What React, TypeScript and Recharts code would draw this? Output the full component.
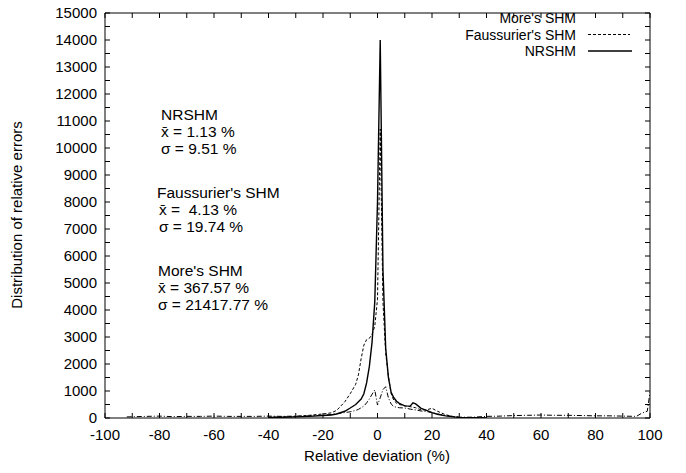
import React from 'react';
import { LineChart, Line, XAxis, YAxis } from 'recharts';

const deviations = [-100, -92, -85, -80, -75, -70, -65, -60, -55, -50, -45, -40, -35, -30, -25, -20, -17, -15, -12, -10, -8, -7, -6, -5, -4, -3, -2, -1, 0, 1, 2, 3, 4, 5, 6, 7, 8, 10, 12, 13, 14, 16, 18, 20, 22, 25, 28, 30, 35, 40, 45, 50, 55, 60, 65, 70, 75, 80, 85, 90, 95, 97, 99, 100];

const nrshm = [null, null, null, null, null, null, null, null, null, null, null, 20, 30, 40, 60, 90, 110, 150, 250, 370, 500, 600, 700, 900, 1300, 1900, 2800, 4300, 8000, 14000, 5500, 2600, 1500, 950, 750, 620, 540, 450, 440, 560, 520, 360, 280, 200, 140, 80, 40, 25, 10, 5, null, null, null, null, null, null, null, null, null, null, null, null, null, null];

const faussurier = [null, null, null, null, null, null, null, null, null, null, null, 30, 40, 60, 100, 150, 190, 280, 600, 900, 1250, 1600, 2200, 2700, 2900, 2950, 3100, 3400, 4400, 10700, 4300, 2400, 1550, 900, 650, 550, 500, 450, 420, 400, 380, 300, 300, 360, 250, 120, 50, 20, 10, 5, null, null, null, null, null, null, null, null, null, null, null, null, null, null];

const more = [null, 40, 60, 70, 50, 60, 60, 70, 60, 60, 60, 70, 60, 70, 80, 100, 130, 160, 200, 230, 280, 320, 380, 440, 560, 700, 880, 1040, 480, 750, 1050, 1160, 750, 520, 420, 400, 380, 370, 330, 310, 300, 260, 240, 200, 150, 90, 50, 30, 30, 60, 70, 90, 100, 110, 100, 100, 90, 80, 80, 70, 60, 180, 250, 950];

const xTicks = [-100, -90, -80, -70, -60, -50, -40, -30, -20, -10, 0, 10, 20, 30, 40, 50, 60, 70, 80, 90, 100];
const yTicks = Array.from({ length: 31 }, (_, i) => i * 500);

const seriesNames = ["More's SHM", "Faussurier's SHM", 'NRSHM'];
const xLabel = 'Relative deviation (%)';
const yLabel = 'Distribution of relative errors';
const stats = [
  { name: 'NRSHM', mean: 'x\u0304 = 1.13 %', sigma: '\u03c3 = 9.51 %' },
  { name: "Faussurier's SHM", mean: 'x\u0304 =  4.13 %', sigma: '\u03c3 = 19.74 %' },
  { name: "More's SHM", mean: 'x\u0304 = 367.57 %', sigma: '\u03c3 = 21417.77 %' },
];

const data = deviations.map((x, i) => ({ x, nrshm: nrshm[i], faussurier: faussurier[i], more: more[i] }));

const FONT = '"Liberation Sans", Arial, Helvetica, sans-serif';
const TL = 5;

const BottomTick = (props: any) => {
  const { x, y, payload } = props;
  const v = payload.value;
  return (
    <g>
      <line x1={x} y1={y} x2={x} y2={y - TL} stroke="#000" strokeWidth={1} />
      {v % 20 === 0 ? (
        <text x={x} y={y + 22} textAnchor="middle" fontSize={15} fontFamily={FONT} fill="#000">{v}</text>
      ) : null}
    </g>
  );
};
const TopTick = (props: any) => {
  const { x, y } = props;
  return <line x1={x} y1={y} x2={x} y2={y + TL} stroke="#000" strokeWidth={1} />;
};
const LeftTick = (props: any) => {
  const { x, y, payload } = props;
  const v = payload.value;
  return (
    <g>
      <line x1={x} y1={y} x2={x + TL} y2={y} stroke="#000" strokeWidth={1} />
      {v % 1000 === 0 ? (
        <text x={x - 8} y={y + 5} textAnchor="end" fontSize={15} fontFamily={FONT} fill="#000">{v}</text>
      ) : null}
    </g>
  );
};
const RightTick = (props: any) => {
  const { x, y } = props;
  return <line x1={x} y1={y} x2={x - TL} y2={y} stroke="#000" strokeWidth={1} />;
};

export default function App() {
  return (
    <div style={{ position: 'absolute', left: 0, top: 0, width: 686, height: 473, background: '#fff' }}>
      <LineChart width={686} height={473} data={data} margin={{ top: 8, right: 26, bottom: 25, left: 45 }}>
        <XAxis xAxisId="bottom" dataKey="x" type="number" domain={[-100, 100]} ticks={xTicks} interval={0}
          tickSize={0} tickMargin={0} tickLine={false} tick={<BottomTick />} axisLine={{ stroke: '#000' }} height={30} allowDataOverflow />
        <XAxis xAxisId="top" orientation="top" dataKey="x" type="number" domain={[-100, 100]} ticks={xTicks} interval={0}
          tickSize={0} tickMargin={0} tickLine={false} tick={<TopTick />} axisLine={{ stroke: '#000' }} height={5} allowDataOverflow />
        <YAxis yAxisId="left" type="number" domain={[0, 15000]} ticks={yTicks} interval={0}
          tickSize={0} tickMargin={0} tickLine={false} tick={<LeftTick />} axisLine={{ stroke: '#000' }} width={60} allowDataOverflow />
        <YAxis yAxisId="right" orientation="right" type="number" domain={[0, 15000]} ticks={yTicks} interval={0}
          tickSize={0} tickMargin={0} tickLine={false} tick={<RightTick />} axisLine={{ stroke: '#000' }} width={10} allowDataOverflow />
        <Line xAxisId="bottom" yAxisId="left" type="linear" dataKey="more" name={seriesNames[0]} stroke="#000" strokeWidth={1}
          strokeDasharray="5 2 1 2" dot={false} isAnimationActive={false} />
        <Line xAxisId="bottom" yAxisId="left" type="linear" dataKey="faussurier" name={seriesNames[1]} stroke="#000" strokeWidth={1}
          strokeDasharray="3 2" dot={false} isAnimationActive={false} />
        <Line xAxisId="bottom" yAxisId="left" type="linear" dataKey="nrshm" name={seriesNames[2]} stroke="#000" strokeWidth={1.4}
          dot={false} isAnimationActive={false} />
      </LineChart>
      <svg width={686} height={473} style={{ position: 'absolute', left: 0, top: 0, pointerEvents: 'none' }}
        fontFamily={FONT} fontSize={15.5} fill="#000">
        <g fontSize={14}>
          <text x={576} y={23} textAnchor="end">{seriesNames[0]}</text>
          <text x={576} y={39.5} textAnchor="end">{seriesNames[1]}</text>
          <line x1={588} y1={34.5} x2={630} y2={34.5} stroke="#000" strokeWidth={1} strokeDasharray="3 2" />
          <text x={576} y={56} textAnchor="end">{seriesNames[2]}</text>
          <line x1={588} y1={51} x2={632} y2={51} stroke="#000" strokeWidth={1.4} />
        </g>

        <text x={161} y={120}>{stats[0].name}</text>
        <text x={161} y={137}>{stats[0].mean}</text>
        <text x={161} y={154}>{stats[0].sigma}</text>

        <text x={157} y={198}>{stats[1].name}</text>
        <text x={159} y={215} xmlSpace="preserve" style={{ whiteSpace: 'pre' }}>{stats[1].mean}</text>
        <text x={159} y={232}>{stats[1].sigma}</text>

        <text x={158} y={276}>{stats[2].name}</text>
        <text x={158} y={293}>{stats[2].mean}</text>
        <text x={158} y={310}>{stats[2].sigma}</text>

        <text x={377} y={461} textAnchor="middle" fontSize={15}>{xLabel}</text>
        <text x={0} y={0} textAnchor="middle" fontSize={15} transform="translate(22 215) rotate(-90)">{yLabel}</text>
      </svg>
    </div>
  );
}
